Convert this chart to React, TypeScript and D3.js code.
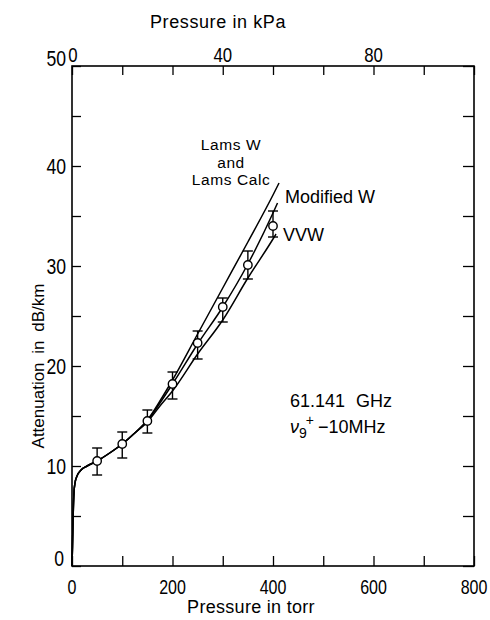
import React, { useEffect, useRef } from 'react';
import * as d3 from 'd3';

// measured points (torr, dB/km) with error bar ends
const measTorr = [50, 100, 150, 200, 250, 300, 350, 400];
const measDb = [10.5, 12.2, 14.5, 18.2, 22.3, 25.9, 30.1, 34.0];
const measHigh = [11.8, 13.4, 15.6, 19.4, 23.5, 26.8, 31.5, 35.5];
const measLow = [9.1, 10.8, 13.3, 16.7, 20.7, 24.4, 28.7, 32.9];

// shared low pressure part of the calculated curves
const lowTorr = [0, 1, 2, 3, 4, 6, 10, 18, 30, 50, 75, 100, 125, 150];
const lowDb = [0, 2, 4.5, 6.3, 7.4, 8.3, 9.0, 9.6, 10.0, 10.5, 11.3, 12.2, 13.3, 14.5];

const lamsTorr = [150, 175, 200, 250, 300, 350, 400, 412];
const lamsDb = [14.6, 16.5, 18.6, 23.2, 27.8, 32.4, 37.1, 38.3];
const modTorr = [150, 175, 200, 250, 300, 350, 400, 409];
const modDb = [14.5, 16.3, 18.2, 22.2, 25.9, 30.2, 35.3, 36.3];
const vvwTorr = [150, 175, 200, 250, 300, 350, 400, 406];
const vvwDb = [14.4, 16.0, 17.5, 21.2, 24.6, 28.8, 32.7, 33.2];

const torrTicks = [0, 100, 200, 300, 400, 500, 600, 700, 800];
const torrLabels = [0, 200, 400, 600, 800];
const kpaLabels = [0, 40, 80];
const dbTicks = [0, 5, 10, 15, 20, 25, 30, 35, 40, 45, 50];
const dbLabels = [0, 10, 20, 30, 40, 50];

const TORR_TO_KPA = 0.1333224;

const W = 490;
const H = 620;
const sans = '"Liberation Sans", Arial, sans-serif';

const App = () => {
    const ref = useRef<SVGSVGElement | null>(null);

    useEffect(() => {
        const svg = d3.select(ref.current);
        svg.selectAll('*').remove();

        const left = 72, right = 474, top = 66, bottom = 566;
        const x = d3.scaleLinear().domain([0, 800]).range([left, right]);
        const xk = d3.scaleLinear().domain([0, 800 * TORR_TO_KPA]).range([left, right]);
        const y = d3.scaleLinear().domain([0, 50]).range([bottom, top]);

        // frame
        svg.append('rect')
            .attr('x', left).attr('y', top)
            .attr('width', right - left).attr('height', bottom - top)
            .attr('fill', 'none').attr('stroke', '#000').attr('stroke-width', 1.6);

        // bottom axis, ticks pointing in
        const gb = svg.append('g').attr('transform', `translate(0,${bottom})`)
            .call(d3.axisTop(x).tickValues(torrTicks).tickSize(10).tickFormat(() => ''));
        gb.select('.domain').remove();
        gb.selectAll('line').attr('stroke-width', 1.3);

        // top axis, same tick spacing
        const gt = svg.append('g').attr('transform', `translate(0,${top})`)
            .call(d3.axisBottom(x).tickValues(torrTicks).tickSize(9).tickFormat(() => ''));
        gt.select('.domain').remove();
        gt.selectAll('line').attr('stroke-width', 1.3);

        // left / right axes
        const gl = svg.append('g').attr('transform', `translate(${left},0)`)
            .call(d3.axisRight(y).tickValues(dbTicks).tickSize(9).tickFormat(() => ''));
        gl.select('.domain').remove();
        gl.selectAll('line').attr('stroke-width', 1.3);
        const gr = svg.append('g').attr('transform', `translate(${right},0)`)
            .call(d3.axisLeft(y).tickValues(dbTicks).tickSize(11).tickFormat(() => ''));
        gr.select('.domain').remove();
        gr.selectAll('line').attr('stroke-width', 1.3);

        // tick labels, in a condensed look
        svg.append('g').selectAll('text').data(torrLabels).enter().append('text')
            .attr('transform', d => `translate(${x(d)},${bottom + 28}) scale(0.8,1)`)
            .attr('text-anchor', 'middle')
            .attr('font-family', sans).attr('font-size', 20)
            .text(d => d);

        svg.append('g').selectAll('text').data(kpaLabels).enter().append('text')
            .attr('transform', d => `translate(${xk(d) + (d === 0 ? 1 : 0)},${top - 4}) scale(0.8,1)`)
            .attr('text-anchor', 'middle')
            .attr('font-family', sans).attr('font-size', 21)
            .text(d => d);

        svg.append('g').selectAll('text').data(dbLabels).enter().append('text')
            .attr('transform', d =>
                `translate(${d === 0 ? 64 : 66},${y(d) + (d === 0 || d === 50 ? 0 : 8)}) scale(0.8,1)`)
            .attr('text-anchor', 'end')
            .attr('font-family', sans).attr('font-size', 22)
            .text(d => d);

        // axis titles
        svg.append('text')
            .attr('x', 218).attr('y', 28)
            .attr('text-anchor', 'middle')
            .attr('font-family', sans).attr('font-size', 18).attr('letter-spacing', 0.6)
            .text('Pressure in kPa');
        svg.append('text')
            .attr('x', 251).attr('y', 613)
            .attr('text-anchor', 'middle')
            .attr('font-family', sans).attr('font-size', 18).attr('letter-spacing', 0.3)
            .text('Pressure in torr');
        svg.append('text')
            .attr('transform', `translate(44,366) rotate(-90)`)
            .attr('text-anchor', 'middle')
            .attr('font-family', sans).attr('font-size', 17).attr('word-spacing', 4)
            .text('Attenuation in dB/km');

        // curves
        const line = d3.line<[number, number]>()
            .x(d => x(d[0])).y(d => y(d[1]))
            .curve(d3.curveMonotoneX);
        const lowPts = lowTorr.map((t, i) => [t, lowDb[i]] as [number, number]);
        const series = [
            lamsTorr.map((t, i) => [t, lamsDb[i]] as [number, number]),
            modTorr.map((t, i) => [t, modDb[i]] as [number, number]),
            vvwTorr.map((t, i) => [t, vvwDb[i]] as [number, number]),
        ];
        series.forEach(s => {
            svg.append('path')
                .attr('d', line(lowPts.slice(0, -1).concat(s)))
                .attr('fill', 'none').attr('stroke', '#000').attr('stroke-width', 1.5);
        });

        // error bars and points
        const eb = svg.append('g').attr('stroke', '#000').attr('stroke-width', 1.4);
        measTorr.forEach((t, i) => {
            const cx = x(t);
            eb.append('line').attr('x1', cx).attr('x2', cx)
                .attr('y1', y(measHigh[i])).attr('y2', y(measLow[i]));
            eb.append('line').attr('x1', cx - 5).attr('x2', cx + 5)
                .attr('y1', y(measHigh[i])).attr('y2', y(measHigh[i]));
            eb.append('line').attr('x1', cx - 5).attr('x2', cx + 5)
                .attr('y1', y(measLow[i])).attr('y2', y(measLow[i]));
        });
        svg.append('g').selectAll('circle').data(measTorr).enter().append('circle')
            .attr('cx', d => x(d)).attr('cy', (d, i) => y(measDb[i]))
            .attr('r', 4.2)
            .attr('fill', '#fff').attr('stroke', '#000').attr('stroke-width', 1.4);

        // curve labels
        const lbl = (tx: number, ty: number, s: string, fs: number, anchor = 'start') =>
            svg.append('text')
                .attr('x', tx).attr('y', ty)
                .attr('text-anchor', anchor)
                .attr('font-family', sans).attr('font-size', fs)
                .text(s);
        lbl(231, 150, 'Lams W', 15.5, 'middle').attr('letter-spacing', 0.6);
        lbl(231, 167.5, 'and', 15.5, 'middle').attr('letter-spacing', 0.6);
        lbl(231, 185, 'Lams Calc', 15.5, 'middle').attr('letter-spacing', 0.6);
        lbl(285, 203, 'Modified W', 18);
        lbl(283, 241, 'VVW', 18);

        // frequency note
        svg.append('text')
            .attr('x', 290).attr('y', 407)
            .attr('font-family', sans).attr('font-size', 18).attr('word-spacing', 6)
            .text('61.141 GHz');
        const note = svg.append('text')
            .attr('x', 290).attr('y', 433)
            .attr('font-family', sans).attr('font-size', 18);
        note.append('tspan').attr('font-style', 'italic').text('ν');
        note.append('tspan').attr('font-size', 14).attr('dy', 5).text('9');
        note.append('tspan').attr('font-size', 14).attr('dy', -13).attr('dx', -1).text('+');
        note.append('tspan').attr('dy', 8).attr('dx', 4).text('−10MHz');
    }, []);

    return (
        <svg
            ref={ref}
            width={W}
            height={H}
            style={{ position: 'absolute', left: 0, top: 0, background: '#fff' }}
        ></svg>
    );
};

export default App;
